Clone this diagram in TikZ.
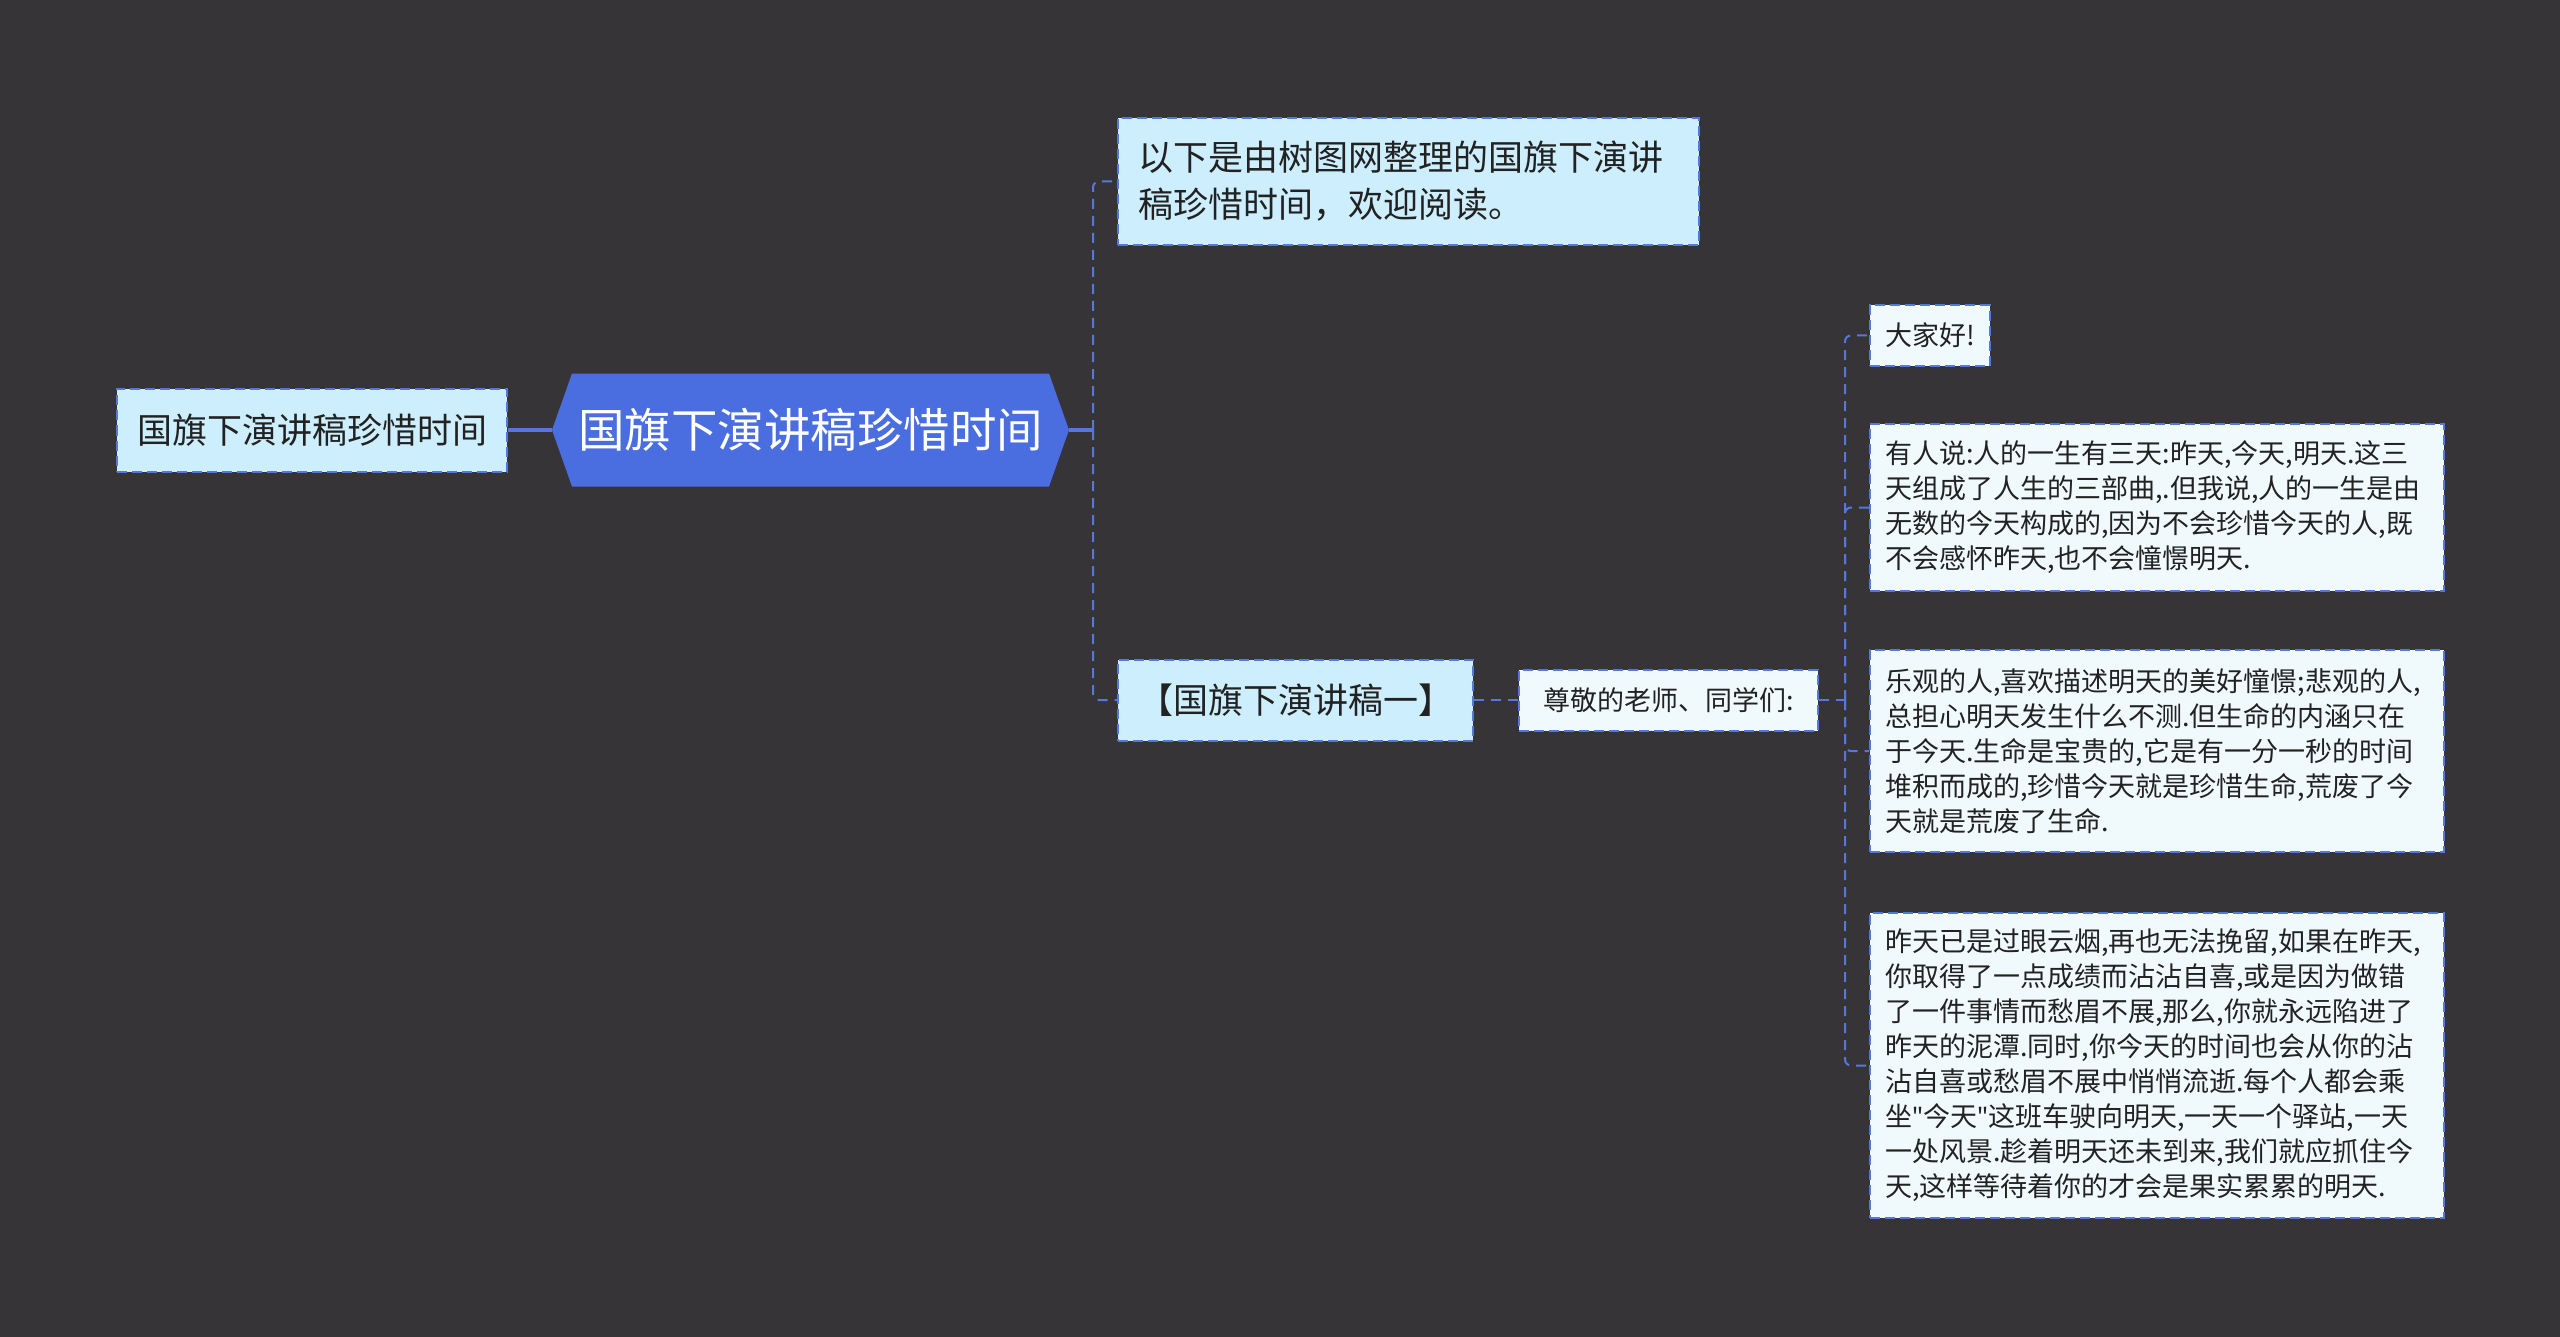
\documentclass[tikz,border=0pt]{standalone}
\usepackage{fontspec}
\setmainfont{Noto Sans CJK SC}
\newfontfamily\quotefont{Noto Sans}
\usetikzlibrary{positioning}

\definecolor{bgdark}{HTML}{363437}
\definecolor{linkblue}{HTML}{5478DE}
\definecolor{rootblue}{HTML}{4A6EE0}
\definecolor{topicfill}{HTML}{CCEEFD}
\definecolor{leaffill}{HTML}{F0FAFD}
\definecolor{inkdark}{HTML}{222222}

\newcommand{\dq}{{\quotefont\symbol{"22}}}

\tikzset{
  boxline/.style={draw=linkblue, line width=1pt, dash pattern=on 5pt off 2.5pt},
  topic/.style={boxline, fill=topicfill, text=inkdark, inner sep=0pt, inner xsep=10pt},
  leaf/.style={boxline, fill=leaffill, text=inkdark, inner sep=0pt, inner xsep=7.5pt,
    font=\fontsize{13.5}{17.5}\selectfont},
  hexbox/.style={inner sep=0pt, text=white, font=\fontsize{23.25}{28}\selectfont,
    path picture={\fill[rootblue] (path picture bounding box.west)
      -- ([xshift=10pt]path picture bounding box.north west)
      -- ([xshift=-10pt]path picture bounding box.north east)
      -- (path picture bounding box.east)
      -- ([xshift=-10pt]path picture bounding box.south east)
      -- ([xshift=10pt]path picture bounding box.south west) -- cycle;}},
  stem/.style={draw=linkblue, line width=1.75pt},
  twig/.style={draw=linkblue, line width=1pt, dash pattern=on 5pt off 3.5pt, rounded corners=3pt}
}

\begin{document}
\begin{tikzpicture}[x=0.5pt, y=-0.5pt]
    \fill[bgdark] (0,0) rectangle (2560,1337);
    \useasboundingbox (0,0) rectangle (2560,1337);

    % main topic and its twin on the left
    \node (root) [hexbox, minimum width=258.5pt, minimum height=56.5pt] at (810.5,430) {国旗下演讲稿珍惜时间};
    \node (title) [topic, anchor=west, minimum width=193.5pt, minimum height=41.5pt,
        font=\fontsize{17.5}{22}\selectfont] at (116,430) {国旗下演讲稿珍惜时间};

    % first level
    \node (intro) [topic, anchor=west, text width=270.5pt, align=left, minimum height=63.5pt,
        font=\fontsize{17.5}{23.5}\selectfont] at (1117,181.5)
        {以下是由树图网整理的国旗下演讲\\稿珍惜时间，欢迎阅读。};
    \node (speech) [topic, anchor=west, minimum width=175.5pt, minimum height=40.5pt,
        font=\fontsize{17.5}{22}\selectfont] at (1117,700) {【国旗下演讲稿一】};
    \node (greet) [leaf, anchor=west, minimum width=149.5pt, minimum height=30.5pt] at (1518,700)
        {尊敬的老师、同学们:};

    % leaves
    \node (hello) [leaf, anchor=west, minimum width=59pt, minimum height=30.5pt] at (1869,335.5) {大家好!};
    \node (days) [leaf, anchor=west, text width=272pt, align=left, minimum height=83.5pt] at (1869,507.5)
        {有人说:人的一生有三天:昨天,今天,明天.这三\\天组成了人生的三部曲,.但我说,人的一生是由\\无数的今天构成的,因为不会珍惜今天的人,既\\不会感怀昨天,也不会憧憬明天.};
    \node (today) [leaf, anchor=west, text width=272pt, align=left, minimum height=101pt] at (1869,751)
        {乐观的人,喜欢描述明天的美好憧憬;悲观的人,\\总担心明天发生什么不测.但生命的内涵只在\\于今天.生命是宝贵的,它是有一分一秒的时间\\堆积而成的,珍惜今天就是珍惜生命,荒废了今\\天就是荒废了生命.};
    \node (past) [leaf, anchor=west, text width=272pt, align=left, minimum height=152.5pt] at (1869,1065.5)
        {昨天已是过眼云烟,再也无法挽留,如果在昨天,\\你取得了一点成绩而沾沾自喜,或是因为做错\\了一件事情而愁眉不展,那么,你就永远陷进了\\昨天的泥潭.同时,你今天的时间也会从你的沾\\沾自喜或愁眉不展中悄悄流逝.每个人都会乘\\坐\dq 今天\dq 这班车驶向明天,一天一个驿站,一天\\一处风景.趁着明天还未到来,我们就应抓住今\\天,这样等待着你的才会是果实累累的明天.};

    % connectors
    \coordinate (fork1) at (1093,430);
    \coordinate (fork2) at (1845,700);
    \draw[stem] (title.east) -- (root.west);
    \draw[stem] (root.east) -- (fork1);
    \draw[twig] (fork1) |- (intro.west);
    \draw[twig] (fork1) |- (speech.west);
    \draw[twig] (speech.east) -- (greet.west);
    \draw[twig] (greet.east) -- (fork2);
    \draw[twig] (fork2) |- (hello.west);
    \draw[twig] (fork2) |- (days.west);
    \draw[twig] (fork2) |- (today.west);
    \draw[twig] (fork2) |- (past.west);
\end{tikzpicture}
\end{document}
